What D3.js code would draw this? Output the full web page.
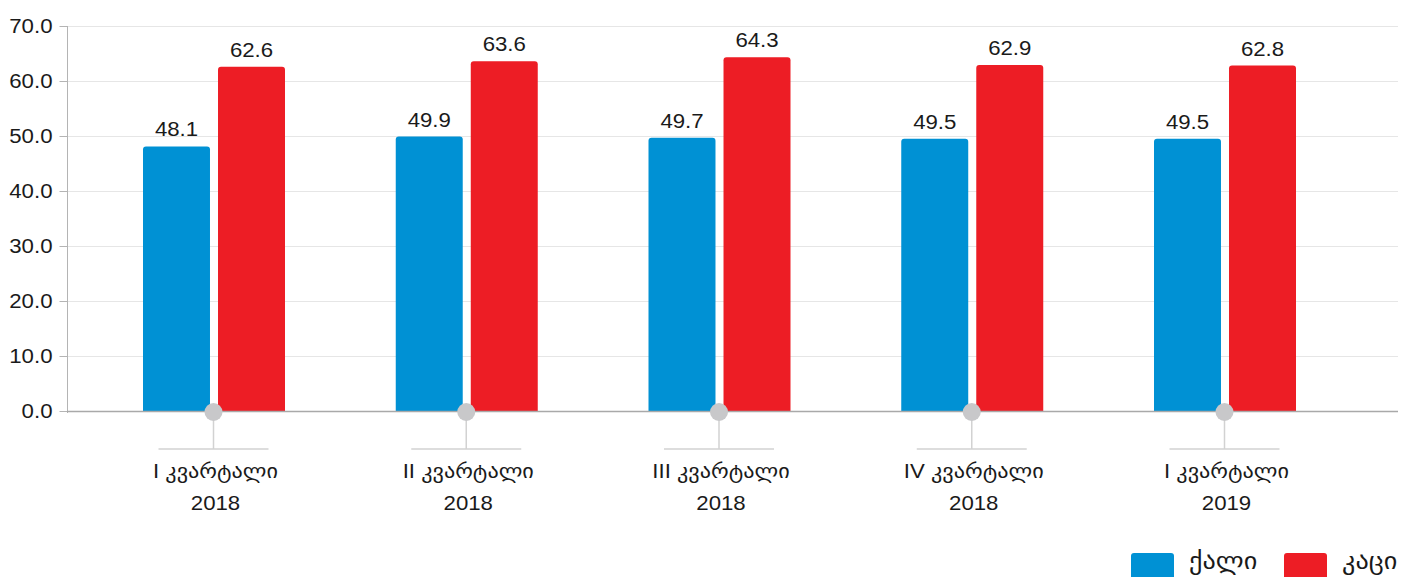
<!DOCTYPE html>
<html>
<head>
<meta charset="utf-8">
<script src="https://cdn.jsdelivr.net/npm/d3@7"></script>
<style>
  html, body { margin: 0; padding: 0; background: #fff; }
  svg { display: block; }
  text { font-family: "Liberation Sans", Arial, "DejaVu Sans", sans-serif; fill: #1a1a1a; }
</style>
</head>
<body>
<svg id="chart" width="1413" height="577"></svg>
<script>
const categories = ["I კვარტალი|2018", "II კვარტალი|2018", "III კვარტალი|2018", "IV კვარტალი|2018", "I კვარტალი|2019"];
const seriesNames = ["ქალი", "კაცი"];
const women = [48.1, 49.9, 49.7, 49.5, 49.5];
const men = [62.6, 63.6, 64.3, 62.9, 62.8];
const yTicks = [0, 10, 20, 30, 40, 50, 60, 70];
const colors = ["#0091d4", "#ed1d25"];

const seriesValues = [women, men];
const svg = d3.select("#chart");
const SX = 1.14;

const y = d3.scaleLinear().domain([0, 70]).range([411, 26]);
const x = d3.scalePoint().domain(categories).range([214, 1225]);
const xs = d3.scaleBand().domain(seriesNames).range([-71, 71]).paddingInner(0.107);

// gridlines
svg.append("g").selectAll("line").data(yTicks.filter(d => d > 0)).join("line")
  .attr("x1", 67).attr("x2", 1398)
  .attr("y1", d => y(d) + 0.5).attr("y2", d => y(d) + 0.5)
  .attr("stroke", "#e6e6e6").attr("stroke-width", 1);

// y axis
const yAxis = d3.axisLeft(y).tickValues(yTicks).tickSize(8).tickPadding(7).tickFormat(d3.format(".1f"));
const gy = svg.append("g").attr("transform", "translate(67.5,0)").call(yAxis);
gy.select(".domain").attr("stroke", "#b4b4b4").attr("d", "M0," + (y(70)) + "V" + (y(0) + 2));
gy.selectAll(".tick line").attr("stroke", "#b4b4b4");
gy.selectAll(".tick text").each(function() {
  const t = d3.select(this);
  const xx = +t.attr("x");
  t.attr("x", null).attr("dy", "0.35em")
    .attr("transform", `translate(${xx},0) scale(${SX},1)`)
    .style("font-size", "19.5px").style("font-family", "Liberation Sans, Arial, sans-serif").attr("fill", "#1a1a1a");
});

// bars
const rows = categories.map((c, i) => ({ c, vals: seriesNames.map((s, j) => ({ s, j, v: seriesValues[j][i] })) }));
const groups = svg.append("g").selectAll("g").data(rows).join("g")
  .attr("transform", d => `translate(${x(d.c)},0)`);

groups.selectAll("path.bar").data(d => d.vals).join("path").attr("class", "bar")
  .attr("fill", d => colors[d.j])
  .attr("d", d => {
    const x0 = xs(d.s), w = xs.bandwidth(), y0 = y(d.v), y1 = y(0), r = 3;
    return `M${x0},${y1}V${y0 + r}Q${x0},${y0} ${x0 + r},${y0}H${x0 + w - r}Q${x0 + w},${y0} ${x0 + w},${y0 + r}V${y1}Z`;
  });

groups.selectAll("text.val").data(d => d.vals).join("text").attr("class", "val")
  .attr("transform", d => `translate(${xs(d.s) + xs.bandwidth() / 2},${y(d.v) - 10}) scale(${SX},1)`)
  .attr("text-anchor", "middle").style("font-size", "19.5px")
  .text(d => d3.format(".1f")(d.v));

// x axis line
svg.append("line").attr("x1", 67).attr("x2", 1398).attr("y1", y(0) + 0.5).attr("y2", y(0) + 0.5)
  .attr("stroke", "#a9a9a9").attr("stroke-width", 1.6);

// custom x ticks
const tk = svg.append("g").selectAll("g").data(categories).join("g")
  .attr("transform", d => `translate(${x(d) - 0.5},0)`);
tk.append("line").attr("x1", 0).attr("x2", 0).attr("y1", y(0)).attr("y2", 449)
  .attr("stroke", "#d2d2d2").attr("stroke-width", 1.5);
tk.append("line").attr("x1", -55).attr("x2", 55).attr("y1", 449).attr("y2", 449)
  .attr("stroke", "#d2d2d2").attr("stroke-width", 1.5);
tk.append("circle").attr("cx", 0).attr("cy", y(0) + 1).attr("r", 9).attr("fill", "#c8c8ca");
tk.append("text").attr("transform", `translate(2,478) scale(${SX},1)`).attr("text-anchor", "middle")
  .style("font-size", "19.5px").text(d => d.split("|")[0]);
tk.append("text").attr("transform", `translate(2,510) scale(${SX},1)`).attr("text-anchor", "middle")
  .style("font-size", "19.5px").text(d => d.split("|")[1]);

// legend
const legendX = [1131, 1284];
const lg = svg.append("g").selectAll("g").data(seriesNames).join("g")
  .attr("transform", (d, i) => `translate(${legendX[i]},0)`);
lg.append("rect").attr("x", 0).attr("y", 553).attr("width", 43).attr("height", 30).attr("rx", 3)
  .attr("fill", (d, i) => colors[i]);
lg.append("text").attr("transform", `translate(58,569) scale(${SX},1)`).style("font-size", "23px").text(d => d);
</script>
</body>
</html>
